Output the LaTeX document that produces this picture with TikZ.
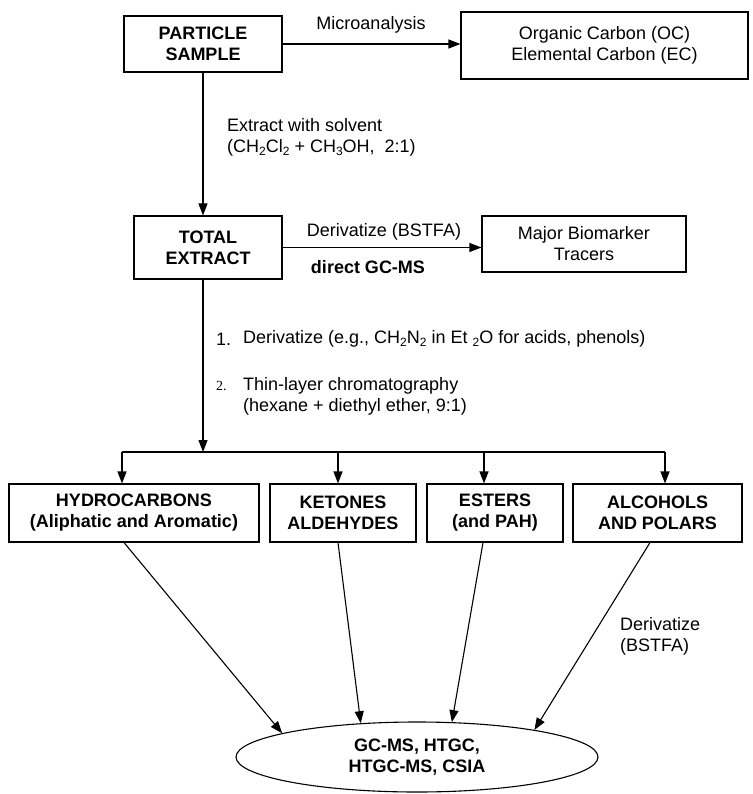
\documentclass[tikz,border=0pt]{standalone}
\usepackage{fontspec}
\setmainfont{Liberation Sans}
\newfontfamily\serifnum{Liberation Serif}
\usetikzlibrary{arrows.meta,shapes.geometric}
\newcommand{\sbs}[1]{\raisebox{-0.35ex}{\fontsize{12}{12}\selectfont #1}}
\begin{document}
\begin{tikzpicture}[x=1pt,y=-1pt,
  every node/.style={font=\fontsize{18}{21}\selectfont, inner sep=0pt},
  box/.style={draw, line width=1.1pt, align=center, font=\fontsize{18}{21}\selectfont\bfseries},
  pbox/.style={draw, line width=1.1pt, align=center},
  lbl/.style={align=left, anchor=west},
  con/.style={line width=1.1pt},
  arr/.style={con, -{Triangle[length=12pt,width=9pt]}}]
\useasboundingbox (0,0) rectangle (752,794);

% boxes
\node[box, minimum width=158pt, minimum height=56pt] (p) at (203,44) {PARTICLE\\SAMPLE};
\node[pbox, minimum width=287pt, minimum height=67pt] (oc) at (604.5,45.5) {Organic Carbon (OC)\\Elemental Carbon (EC)};
\node[box, minimum width=148pt, minimum height=63pt] (t) at (208,247.5) {TOTAL\\EXTRACT};
\node[pbox, minimum width=204pt, minimum height=56pt] (m) at (584,244) {Major Biomarker\\Tracers};

\node[box, minimum width=250pt, minimum height=58pt] (b1) at (134,513) {HYDROCARBONS\\(Aliphatic and Aromatic)};
\node[box, minimum width=146pt, minimum height=58pt] (b2) at (343,513) {KETONES\\ALDEHYDES};
\node[box, minimum width=136pt, minimum height=58pt] (b3) at (495,513) {ESTERS\\(and PAH)};
\node[box, minimum width=169pt, minimum height=58pt] (b4) at (657.5,513) {ALCOHOLS\\AND POLARS};

\node[draw, ellipse, line width=1.1pt, minimum width=362pt, minimum height=70pt, align=center,
      font=\fontsize{18}{21}\selectfont\bfseries] (ell) at (417,757) {GC-MS, HTGC,\\HTGC-MS, CSIA};

% labels
\node (mi) at (371,25) {Microanalysis};
\node[lbl] (ex) at (227,137) {Extract with solvent\\(CH\sbs{2}Cl\sbs{2} + CH\sbs{3}OH,\ \ 2:1)};
\node (dv) at (384,232) {Derivatize (BSTFA)};
\node[font=\fontsize{18}{21}\selectfont\bfseries] (dg) at (368,267) {direct GC-MS};
\node[lbl] (n1) at (216,339) {1.};
\node[lbl] (d1) at (243,339) {Derivatize (e.g., CH\sbs{2}N\sbs{2} in Et \sbs{2}O for acids, phenols)};
\node[lbl, font=\fontsize{14}{16}\selectfont\serifnum] (n2) at (216,386) {2.};
\node[lbl] (d2) at (243,396) {Thin-layer chromatography\\(hexane + diethyl ether, 9:1)};
\node[lbl] (d3) at (620,636) {Derivatize\\(BSTFA)};

% connectors
\draw[arr] (p.east) -- (p.east -| oc.west);
\draw[arr] (p.south) -- (p.south |- t.north);
\draw[arr] (t.east) -- (t.east -| m.west);
\coordinate (j) at (203,452);
\coordinate (j1) at (122,452);
\coordinate (j2) at (338,452);
\coordinate (j3) at (484,452);
\coordinate (j4) at (665,452);
\draw[arr] (t.south -| j) -- (j);
\draw[con] (j1) -- (j4);
\draw[arr] (j1) -- (j1 |- b1.north);
\draw[arr] (j2) -- (j2 |- b2.north);
\draw[arr] (j3) -- (j3 |- b3.north);
\draw[arr] (j4) -- (j4 |- b4.north);

\draw[arr] ([xshift=-10pt]b1.south) -- (ell.170.2);
\draw[arr] ([xshift=-5pt]b2.south) -- (ell.149.3);
\draw[arr] ([xshift=-12pt]b3.south) -- (ell.45.3);
\draw[arr] ([xshift=-7.5pt]b4.south) -- (ell.13.6);
\end{tikzpicture}
\end{document}
